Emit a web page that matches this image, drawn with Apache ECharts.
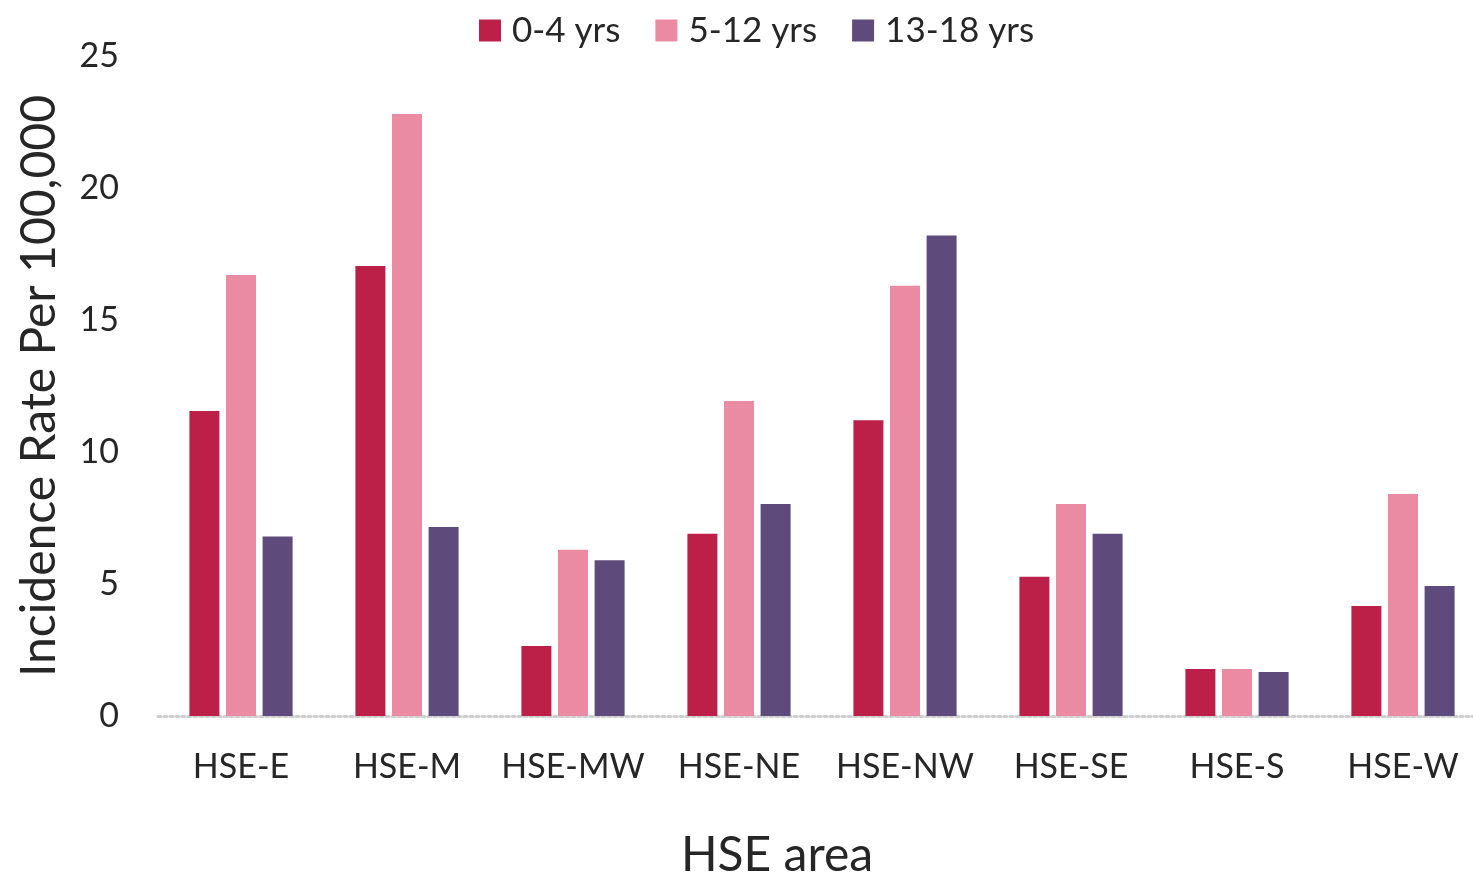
<!DOCTYPE html>
<html>
<head>
<meta charset="utf-8">
<script src="https://cdn.jsdelivr.net/npm/echarts@6/dist/echarts.min.js"></script>
<style>
html,body{margin:0;padding:0;background:#fff;}
#chart{width:1473px;height:876px;}
</style>
</head>
<body>
<div id="chart"></div>
<script>
const categories = ['HSE-E','HSE-M','HSE-MW','HSE-NE','HSE-NW','HSE-SE','HSE-S','HSE-W'];
const seriesNames = ['0-4 yrs','5-12 yrs','13-18 yrs'];
const age0to4 = [11.55, 17.05, 2.65, 6.9, 11.2, 5.27, 1.78, 4.17];
const age5to12 = [16.7, 22.8, 6.3, 11.93, 16.3, 8.03, 1.78, 8.41];
const age13to18 = [6.8, 7.16, 5.9, 8.03, 18.2, 6.9, 1.67, 4.92];
const yTicks = [0, 5, 10, 15, 20, 25];

const colors = ['#BC2048', '#EA8AA3', '#5E4A7B'];
const FONT = 'Lato';
const TXT = '#262626';
const chart = echarts.init(document.getElementById('chart'));
chart.setOption({
  animation: false,
  textStyle: { fontFamily: FONT },
  legend: {
    top: 8, left: 474,
    itemWidth: 22, itemHeight: 22, itemGap: 35,
    icon: 'rect',
    textStyle: { fontSize: 35, color: TXT, fontFamily: FONT, padding: [0, 0, 0, 6] },
    data: seriesNames
  },
  grid: { left: 158, right: -13, top: 56, bottom: 160, containLabel: false, outerBoundsMode: 'none' },
  xAxis: {
    type: 'category',
    data: categories,
    name: 'HSE area',
    nameLocation: 'middle',
    nameGap: 116,
    nameTextStyle: { fontSize: 48, color: TXT, fontFamily: FONT, padding: [0, 90, 0, 0] },
    axisLine: { lineStyle: { color: '#cfcfcf', width: 3, type: [3, 3] } },
    axisTick: { show: false },
    axisLabel: { fontSize: 34, color: TXT, margin: 34, fontFamily: FONT, interval: 0 }
  },
  yAxis: {
    type: 'value',
    min: yTicks[0], max: yTicks[yTicks.length - 1], interval: 5,
    name: 'Incidence Rate Per 100,000',
    nameLocation: 'middle',
    nameGap: 94,
    nameTextStyle: { fontSize: 48, color: TXT, fontFamily: FONT },
    axisLine: { show: false },
    axisTick: { show: false },
    splitLine: { show: false },
    axisLabel: { fontSize: 34, color: TXT, margin: 39, fontFamily: FONT }
  },
  series: [age0to4, age5to12, age13to18].map((d, i) => ({
    name: seriesNames[i],
    type: 'bar',
    data: d,
    barWidth: 30,
    barGap: '22%',
    itemStyle: { color: colors[i] }
  }))
});
</script>
</body>
</html>
